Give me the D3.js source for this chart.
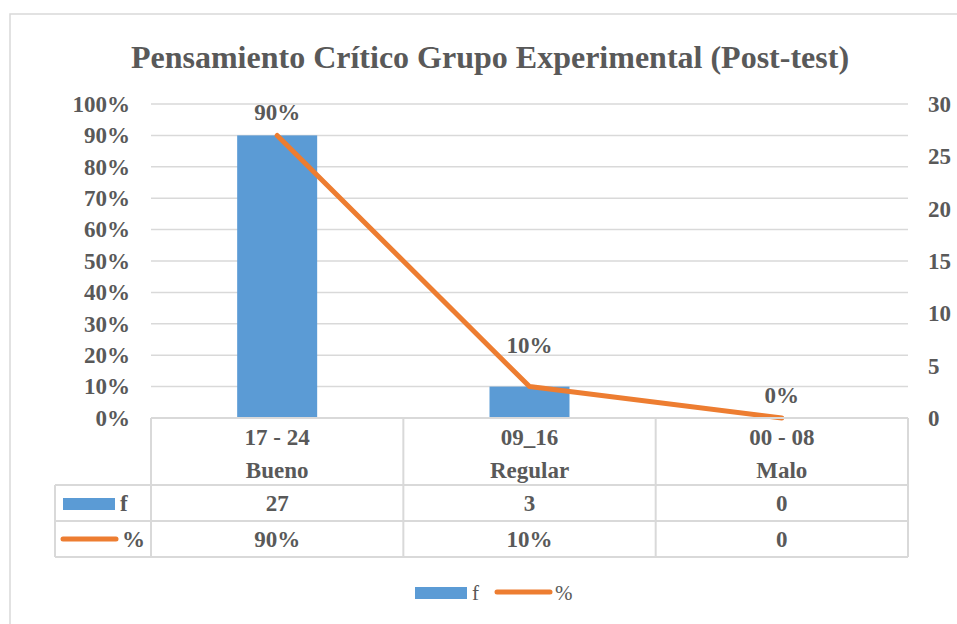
<!DOCTYPE html>
<html>
<head>
<meta charset="utf-8">
<script src="https://cdn.jsdelivr.net/npm/d3@7"></script>
<style>
  body { margin: 0; background: #fff; }
  svg text { font-family: "Liberation Serif", "Times New Roman", serif; fill: #595959; }
</style>
</head>
<body>
<div id="chart"></div>
<script>
// data
const ranges = ["17 - 24", "09_16", "00 - 08"];
const ratings = ["Bueno", "Regular", "Malo"];
const freq = [27, 3, 0];
const pct = [0.9, 0.1, 0];
const pctTable = ["90%", "10%", "0"];
const pctLabels = ["90%", "10%", "0%"];
const leftTicks = [0, 0.1, 0.2, 0.3, 0.4, 0.5, 0.6, 0.7, 0.8, 0.9, 1];
const rightTicks = [0, 5, 10, 15, 20, 25, 30];

const blue = "#5b9bd5", orange = "#ed7d31", grid = "#d9d9d9";
const W = 957, H = 624;

const svg = d3.select("#chart").append("svg")
    .attr("width", W).attr("height", H);

// chart frame
svg.append("rect")
    .attr("x", 10).attr("y", 14)
    .attr("width", 960).attr("height", 640)
    .attr("fill", "none").attr("stroke", grid).attr("stroke-width", 1.5);

svg.append("text")
    .attr("x", 490).attr("y", 57)
    .attr("text-anchor", "middle").attr("dominant-baseline", "central")
    .attr("font-size", 32).attr("font-weight", "bold")
    .text("Pensamiento Crítico Grupo Experimental (Post-test)");

const plot = { left: 151, right: 908, top: 104, bottom: 418 };

const x = d3.scaleBand().domain(ranges).range([plot.left, plot.right]).paddingInner(0).paddingOuter(0);
const yL = d3.scaleLinear().domain([0, 1]).range([plot.bottom, plot.top]);
const yR = d3.scaleLinear().domain([0, 30]).range([plot.bottom, plot.top]);

// gridlines
svg.append("g").selectAll("line")
    .data(leftTicks.slice(1))
    .join("line")
    .attr("x1", plot.left).attr("x2", plot.right)
    .attr("y1", d => yL(d)).attr("y2", d => yL(d))
    .attr("stroke", grid).attr("stroke-width", 1.5);

// left axis
const axL = svg.append("g")
    .attr("transform", `translate(${plot.left},0)`)
    .call(d3.axisLeft(yL).tickValues(leftTicks).tickFormat(d3.format(".0%")).tickSize(0).tickPadding(21));
axL.select(".domain").remove();
axL.selectAll("text").attr("font-size", 23).attr("font-weight", "bold").attr("fill", "#595959");

// right axis
const axR = svg.append("g")
    .attr("transform", `translate(${plot.right},0)`)
    .call(d3.axisRight(yR).tickValues(rightTicks).tickSize(0).tickPadding(20));
axR.select(".domain").remove();
axR.selectAll("text").attr("font-size", 23).attr("font-weight", "bold").attr("fill", "#595959");

// bars (f on secondary axis)
const bw = 80;
svg.append("g").selectAll("rect")
    .data(ranges)
    .join("rect")
    .attr("x", d => x(d) + x.bandwidth() / 2 - bw / 2)
    .attr("width", bw)
    .attr("y", (d, i) => yR(freq[i]))
    .attr("height", (d, i) => yR(0) - yR(freq[i]))
    .attr("fill", blue);

// line (% on primary axis)
const line = d3.line()
    .x((d, i) => x(ranges[i]) + x.bandwidth() / 2)
    .y(d => yL(d));
svg.append("path")
    .datum(pct)
    .attr("d", line)
    .attr("fill", "none").attr("stroke", orange)
    .attr("stroke-width", 5).attr("stroke-linecap", "round").attr("stroke-linejoin", "round");

// data labels
svg.append("g").selectAll("text")
    .data(pctLabels)
    .join("text")
    .attr("x", (d, i) => x(ranges[i]) + x.bandwidth() / 2)
    .attr("y", (d, i) => yL(pct[i]) - (i === 1 ? 41 : 23))
    .attr("text-anchor", "middle").attr("dominant-baseline", "central")
    .attr("font-size", 23).attr("font-weight", "bold")
    .text(d => d);

// data table
const rows = { head: plot.bottom, f: 485, p: 521, end: 557 };
const keyLeft = 55;
const tg = svg.append("g");

[rows.head, rows.f, rows.p, rows.end].forEach((yy, k) => {
    tg.append("line")
        .attr("x1", k === 0 ? plot.left : keyLeft).attr("x2", plot.right)
        .attr("y1", yy).attr("y2", yy)
        .attr("stroke", grid).attr("stroke-width", 2);
});
const vx = ranges.map(d => x(d)).concat([plot.right]);
vx.forEach(xx => {
    tg.append("line")
        .attr("x1", xx).attr("x2", xx)
        .attr("y1", rows.head).attr("y2", rows.end)
        .attr("stroke", grid).attr("stroke-width", 2);
});
tg.append("line")
    .attr("x1", keyLeft).attr("x2", keyLeft)
    .attr("y1", rows.f).attr("y2", rows.end)
    .attr("stroke", grid).attr("stroke-width", 2);

const cell = (txt, cx, cy) => tg.append("text")
    .attr("x", cx).attr("y", cy)
    .attr("text-anchor", "middle").attr("dominant-baseline", "central")
    .attr("font-size", 23).attr("font-weight", "bold")
    .text(txt);

ranges.forEach((d, i) => {
    const cx = x(d) + x.bandwidth() / 2;
    cell(d, cx, 437);
    cell(ratings[i], cx, 470);
    cell(freq[i], cx, (rows.f + rows.p) / 2);
    cell(pctTable[i], cx, (rows.p + rows.end) / 2);
});

// table keys
tg.append("rect").attr("x", 63).attr("y", 498).attr("width", 52).attr("height", 12).attr("fill", blue);
tg.append("text").attr("x", 120).attr("y", 503).attr("dominant-baseline", "central")
    .attr("font-size", 23).attr("font-weight", "bold").text("f");
tg.append("line").attr("x1", 63).attr("x2", 116).attr("y1", 539).attr("y2", 539)
    .attr("stroke", orange).attr("stroke-width", 5).attr("stroke-linecap", "round");
tg.append("text").attr("x", 122).attr("y", 539).attr("dominant-baseline", "central")
    .attr("font-size", 23).attr("font-weight", "bold").text("%");

// legend
const lg = svg.append("g");
lg.append("rect").attr("x", 415).attr("y", 587).attr("width", 52).attr("height", 12).attr("fill", blue);
lg.append("text").attr("x", 472).attr("y", 593).attr("dominant-baseline", "central")
    .attr("font-size", 21).text("f");
lg.append("line").attr("x1", 497).attr("x2", 550).attr("y1", 592).attr("y2", 592)
    .attr("stroke", orange).attr("stroke-width", 5).attr("stroke-linecap", "round");
lg.append("text").attr("x", 555).attr("y", 593).attr("dominant-baseline", "central")
    .attr("font-size", 21).text("%");
</script>
</body>
</html>
